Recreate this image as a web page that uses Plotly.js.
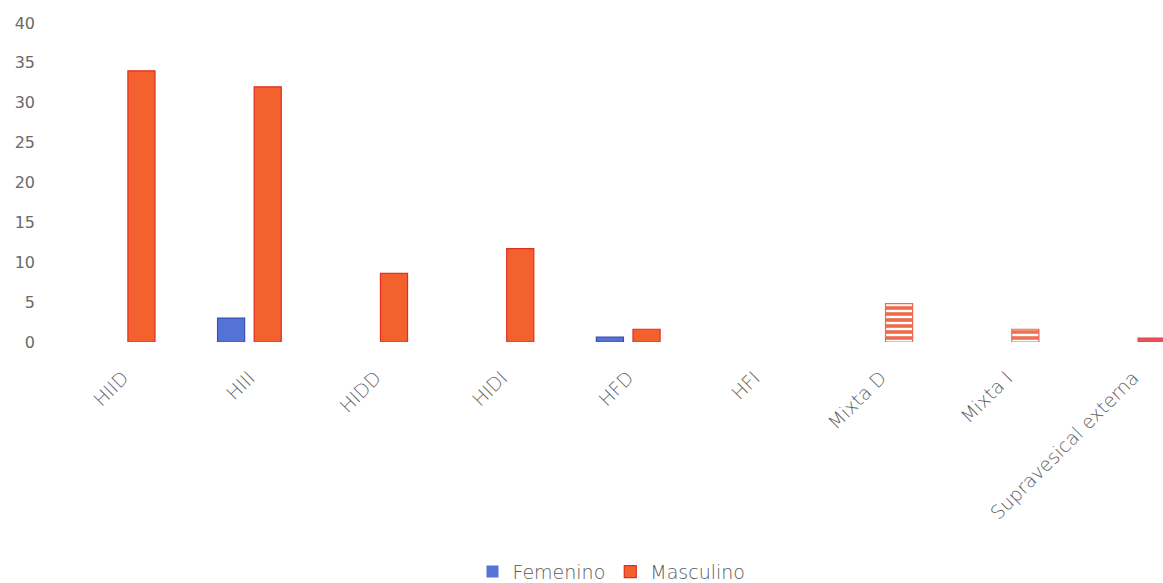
<!DOCTYPE html>
<html>
<head>
<meta charset="utf-8">
<script src="https://cdn.plot.ly/plotly-3.0.1.min.js"></script>
<style>html,body{margin:0;padding:0;background:#fff;overflow:hidden}#chart{width:1163px;height:583px}</style>
</head>
<body>
<div id="chart"></div>
<script>
const categories = ["HIID","HIII","HIDD","HIDI","HFD","HFI","Mixta D","Mixta I","Supravesical externa"];
const femenino = [0, 3, 0, 0, 0.6, 0, 0, 0, 0];
const masculino = [34, 32, 8.6, 11.7, 1.6, 0, 4.8, 1.6, 0.5];
const yTicks = [0,5,10,15,20,25,30,35,40];

const redFill = ["#F2612E","#F2612E","#F2612E","#F2612E","#F2612E","#F2612E","#EF6A4A","#EF7052","#E9525C"];
const redLine = ["#DF2F1F","#DF2F1F","#DF2F1F","#DF2F1F","#DF2F1F","#DF2F1F","#EC6A50","#EC6A50","#E0404C"];
const redPattern = ["","","","","","","-","-",""];

function borderWidths(vals) { return vals.map(v => v > 0 ? 1.2 : 0); }

const traces = [
  {type:"bar", name:"Femenino", x:categories, y:femenino,
   marker:{color:"#5572D6", line:{color:"#3A50B0", width:borderWidths(femenino)}}},
  {type:"bar", name:"Masculino", x:categories, y:masculino,
   marker:{color:redFill, line:{color:redLine, width:borderWidths(masculino)},
           pattern:{shape:redPattern, fillmode:"replace", bgcolor:"#F9B096", size:6, solidity:0.6}}}
];

const layout = {
  width:1163, height:583,
  paper_bgcolor:"#ffffff", plot_bgcolor:"#ffffff",
  margin:{l:60, r:0, t:23, b:241, autoexpand:false},
  barmode:"group", bargap:0.42, bargroupgap:0.26,
  font:{family:"'DejaVu Sans', sans-serif", color:"#606060"},
  showlegend:true,
  legend:{orientation:"h", x:0.5, xanchor:"center", y:-0.72, yanchor:"middle",
          font:{size:19, color:"#5a5a5a", weight:200}, traceorder:"normal"},
  xaxis:{type:"category", range:[-0.5, 8.235], tickangle:-45, showgrid:false, zeroline:false, automargin:false,
         showline:false, ticks:"", ticklabelstandoff:20, tickfont:{size:19, color:"#606060", weight:200}},
  yaxis:{range:[0,40], tickvals:yTicks, ticktext:yTicks.map(String), showgrid:false, zeroline:false, automargin:false,
         showline:false, ticks:"", ticklabelstandoff:24, tickfont:{size:16, color:"#6a6a6a"}}
};

Plotly.newPlot("chart", traces, layout, {displayModeBar:false, staticPlot:true});
</script>
</body>
</html>
